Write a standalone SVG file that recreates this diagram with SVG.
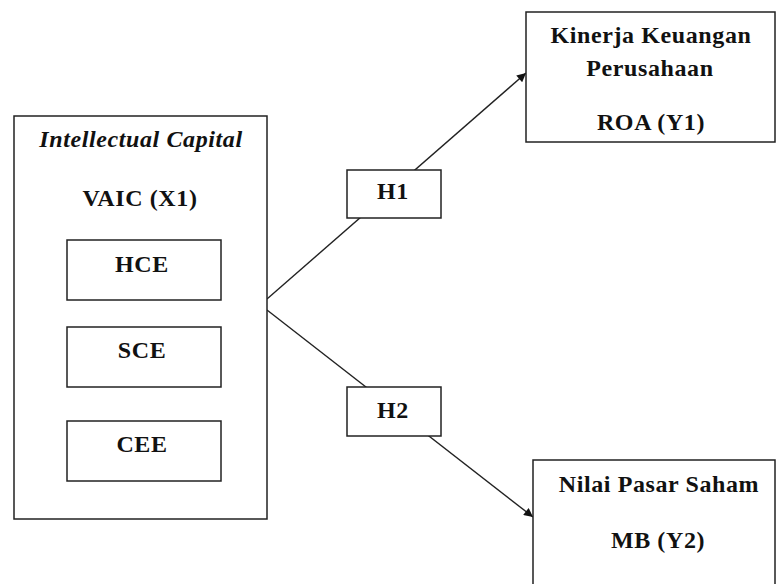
<svg xmlns="http://www.w3.org/2000/svg" width="776" height="584" viewBox="0 0 776 584">
<style>
.box{fill:#fff;stroke:#222;stroke-width:1.5}
.t{font-family:"Liberation Serif","Times New Roman",serif;font-size:24px;font-weight:bold;letter-spacing:0.6px;fill:#111;text-anchor:middle}
.it{font-style:italic}
.ln{stroke:#222;stroke-width:1.4;fill:none}
</style>
<defs>
<marker id="arr" viewBox="0 0 10 10" refX="10" refY="5" markerWidth="12" markerHeight="9" markerUnits="userSpaceOnUse" orient="auto">
<path d="M0,0 L10,5 L0,10 z" fill="#111"/>
</marker>
</defs>
<rect width="776" height="584" fill="#fff"/>
<g id="connectors">
<line class="ln" x1="267" y1="299" x2="526" y2="73" marker-end="url(#arr)"/>
<line class="ln" x1="267" y1="310" x2="533" y2="517" marker-end="url(#arr)"/>
</g>
<g id="intellectual-capital">
<rect class="box" x="14" y="116" width="253" height="403"/>
<text class="t it" x="141" y="147">Intellectual Capital</text>
<text class="t" x="140" y="206">VAIC (X1)</text>
</g>
<g id="hce">
<rect class="box" x="67" y="240" width="154" height="60"/>
<text class="t" x="142" y="272">HCE</text>
</g>
<g id="sce">
<rect class="box" x="67" y="327" width="154" height="60"/>
<text class="t" x="142" y="358">SCE</text>
</g>
<g id="cee">
<rect class="box" x="67" y="421" width="154" height="60"/>
<text class="t" x="142" y="452">CEE</text>
</g>
<g id="h1">
<rect class="box" x="347" y="170" width="94" height="48"/>
<text class="t" x="393" y="199">H1</text>
</g>
<g id="h2">
<rect class="box" x="347" y="387" width="94" height="49"/>
<text class="t" x="393" y="418">H2</text>
</g>
<g id="kinerja">
<rect class="box" x="526" y="12" width="249" height="130"/>
<text class="t" x="651" y="43">Kinerja Keuangan</text>
<text class="t" x="650" y="76">Perusahaan</text>
<text class="t" x="651" y="130">ROA (Y1)</text>
</g>
<g id="nilai">
<rect class="box" x="533" y="460" width="242" height="140"/>
<text class="t" x="659" y="492">Nilai Pasar Saham</text>
<text class="t" x="658" y="548">MB (Y2)</text>
</g>
</svg>
